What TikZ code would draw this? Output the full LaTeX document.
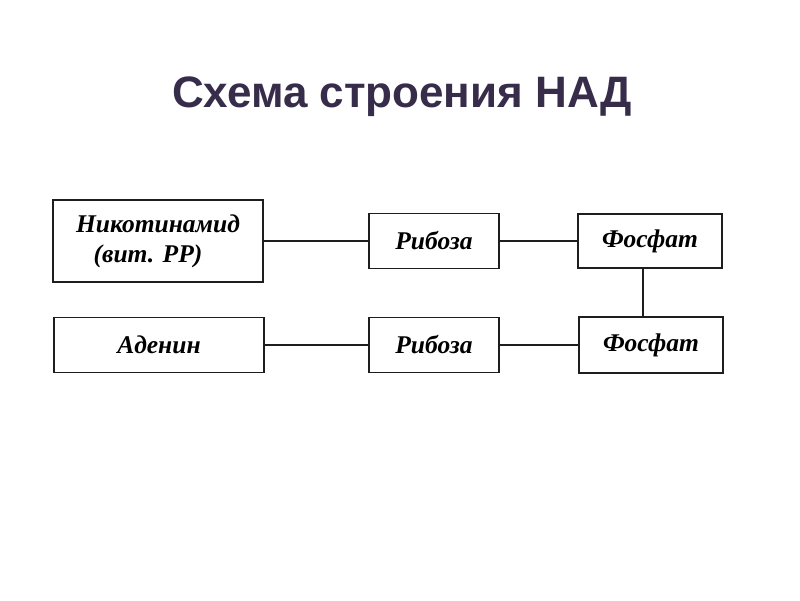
\documentclass[tikz,border=0pt]{standalone}
\usepackage{fontspec}
\setmainfont{Liberation Serif}
\newfontfamily\titlefont{Liberation Sans}
\definecolor{titlecol}{RGB}{55,45,75}
\definecolor{boxline}{RGB}{30,30,30}
\begin{document}
\begin{tikzpicture}[x=1pt,y=-1pt,
  box/.style={draw=boxline,line width=1.5pt,rectangle,inner sep=0pt,
    font=\fontsize{25.5}{30}\selectfont\bfseries\itshape,align=center},
  link/.style={draw=boxline,line width=1.3pt}]
\useasboundingbox[fill=white] (0,0) rectangle (800,600);
\node[anchor=base,font=\titlefont\fontsize{44}{52}\selectfont\bfseries,text=titlecol] (title) at (402,107) {Схема строения НАД};
\node[box,minimum width=210pt,minimum height=82pt] (nic) at (158,241) {Никотинамид\\\hspace*{-20pt}(вит. PP)};
\node[box,minimum width=130pt,minimum height=55pt] (rib1) at (434,241) {Рибоза};
\node[box,minimum width=144pt,minimum height=54pt] (pho1) at (650,241) {Фосфат};
\node[box,minimum width=210pt,minimum height=55pt] (ade) at (159,345) {Аденин};
\node[box,minimum width=130pt,minimum height=55pt] (rib2) at (434,345) {Рибоза};
\node[box,minimum width=144pt,minimum height=56pt] (pho2) at (651,345) {Фосфат};
\draw[link] (nic.east) -- (rib1.west);
\draw[link] (rib1.east) -- (pho1.west);
\draw[link] (ade.east) -- (rib2.west);
\draw[link] (rib2.east) -- (pho2.west);
\draw[link] ([xshift=-7pt]pho1.south) -- ([xshift=-7pt]pho1.south |- pho2.north);
\end{tikzpicture}
\end{document}
